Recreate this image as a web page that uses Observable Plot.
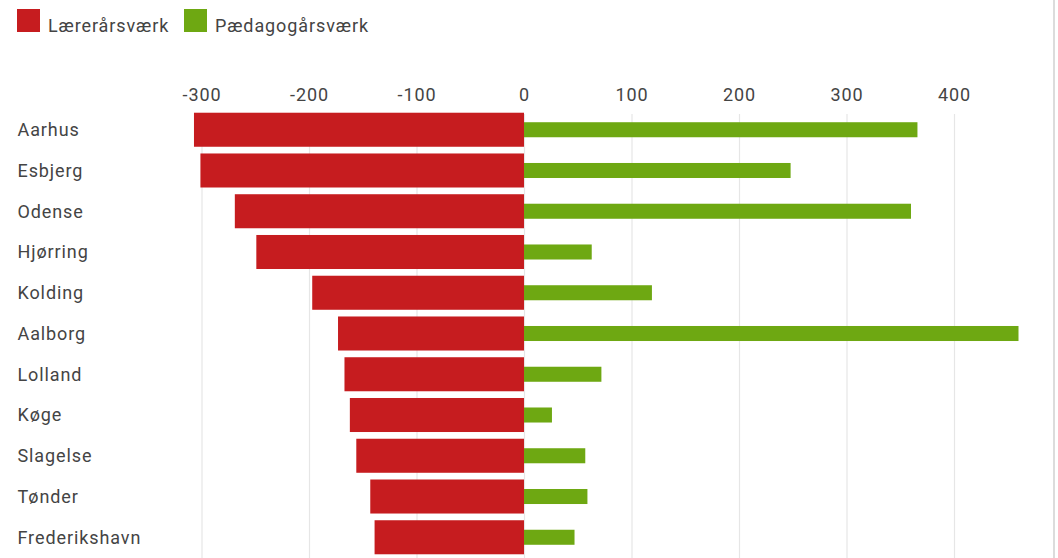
<!DOCTYPE html>
<html>
<head>
<meta charset="utf-8">
<script src="https://cdn.jsdelivr.net/npm/d3@7"></script>
<script src="https://cdn.jsdelivr.net/npm/@observablehq/plot@0.6"></script>
<style>
  html, body { margin: 0; padding: 0; background: #fff; overflow: hidden; }
  body { font-family: Roboto, "Noto Sans", sans-serif; width: 1058px; height: 558px; position: relative; }
  #legend { height: 44px; position: relative; font-size: 18px; color: #444; letter-spacing: 0.9px; }
  .item { position: absolute; top: 9px; display: flex; align-items: center; }
  .sw { width: 23px; height: 23px; margin-right: 8px; }
  .lbl { position: relative; top: 5px; }
  #edge { position: absolute; left: 1053px; top: 0; width: 2px; height: 558px; background: #dcdcdc; }
</style>
</head>
<body>
<div id="legend"></div>
<div id="chart"></div>
<div id="edge"></div>
<script>
const categories = ["Aarhus", "Esbjerg", "Odense", "Hjørring", "Kolding", "Aalborg", "Lolland", "Køge", "Slagelse", "Tønder", "Frederikshavn"];
const laerer = [-307, -301, -269, -249, -197, -173, -167, -162, -156, -143, -139];
const paedagog = [366, 248, 360, 63, 119, 460, 72, 26, 57, 59, 47];
const seriesNames = ["Lærerårsværk", "Pædagogårsværk"];
const seriesColors = ["#c61c1f", "#6ea812"];
const xTicks = [-300, -200, -100, 0, 100, 200, 300, 400];

// legend
const legend = document.getElementById("legend");
const legendX = [17, 184];
seriesNames.forEach((name, i) => {
  const it = document.createElement("div");
  it.className = "item";
  it.style.left = legendX[i] + "px";
  it.innerHTML = `<div class="sw" style="background:${seriesColors[i]}"></div><span class="lbl">${name}</span>`;
  legend.appendChild(it);
});

const redData = categories.map((c, i) => ({city: c, value: laerer[i]}));
const greenData = categories.map((c, i) => ({city: c, value: paedagog[i]}));

const marginLeft = 180;
const plot = Plot.plot({
  width: 1058,
  height: 514,
  marginLeft,
  marginRight: 18,
  marginTop: 62,
  marginBottom: -3,
  style: {fontFamily: "Roboto, 'Noto Sans', sans-serif", fontSize: "18px", color: "#444", background: "transparent", letterSpacing: "0.9px"},
  x: {domain: [-320, 480], ticks: xTicks},
  y: {domain: categories, padding: 0.165, align: 0.5, round: false},
  marks: [
    Plot.gridX(xTicks, {stroke: "#e6e6e6", strokeOpacity: 1, strokeWidth: 1.2, insetTop: 8}),
    Plot.barX(redData, {x1: 0, x2: "value", y: "city", fill: seriesColors[0]}),
    Plot.barX(greenData, {x1: 0, x2: "value", y: "city", fill: seriesColors[1], insetTop: 9.5, insetBottom: 9.5}),
    Plot.axisX({anchor: "top", ticks: xTicks, tickSize: 0, tickPadding: 6, label: null, fill: "#444", tickFormat: d => d < 0 ? "-" + Math.abs(d) : String(d)}),
    Plot.axisY({anchor: "left", tickSize: 0, tickPadding: 0, textAnchor: "start", dx: 17 - marginLeft, label: null, fill: "#444"})
  ]
});
document.getElementById("chart").appendChild(plot);
</script>
</body>
</html>
